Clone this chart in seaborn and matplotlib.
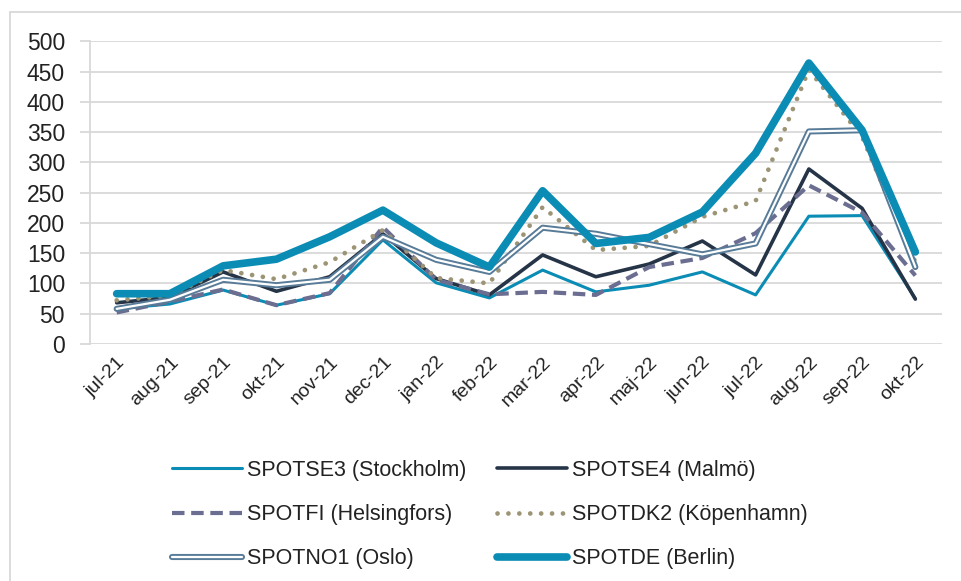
import matplotlib
matplotlib.use("Agg")
import matplotlib.pyplot as plt
import matplotlib.patheffects as pe
from matplotlib.lines import Line2D
import pandas as pd
import seaborn as sns

months = ["jul-21", "aug-21", "sep-21", "okt-21", "nov-21", "dec-21", "jan-22", "feb-22",
          "mar-22", "apr-22", "maj-22", "jun-22", "jul-22", "aug-22", "sep-22", "okt-22"]

se3 = [58, 66, 89, 64, 83, 172, 101, 76, 122, 86, 97, 119, 81, 211, 212, 75]
se4 = [68, 77, 119, 87, 111, 182, 108, 81, 147, 111, 132, 170, 114, 289, 224, 74]
fi = [52, 70, 90, 64, 84, 193, 106, 82, 86, 81, 127, 142, 183, 262, 217, 113]
dk2 = [72, 80, 122, 107, 135, 188, 109, 100, 226, 155, 162, 210, 236, 453, 342, 135]
no1 = [58, 73, 106, 97, 106, 177, 139, 119, 192, 182, 165, 148, 166, 351, 353, 127]
de = [83, 83, 129, 140, 177, 221, 167, 127, 253, 166, 176, 218, 315, 464, 353, 152]

labels = ["SPOTSE3 (Stockholm)", "SPOTSE4 (Malmö)", "SPOTFI (Helsingfors)",
          "SPOTDK2 (Köpenhamn)", "SPOTNO1 (Oslo)", "SPOTDE (Berlin)"]

df = pd.DataFrame({"month": months, labels[0]: se3, labels[1]: se4, labels[2]: fi,
                   labels[3]: dk2, labels[4]: no1, labels[5]: de})
df["x"] = range(len(months))

sns.set_style("white")
plt.rcParams["font.family"] = ["Liberation Sans", "DejaVu Sans"]

fig = plt.figure(figsize=(9.61, 5.81), dpi=100)
ax = fig.add_axes([0.0937, 0.408, 0.8865, 0.521])

teal = "#0a8cb5"
grid_c = "#d9d9d9"
styles = {
    labels[0]: dict(color=teal, lw=2.2),
    labels[1]: dict(color="#263447", lw=2.6),
    labels[2]: dict(color="#6b6e90", lw=3.0, dashes=(3, 1.6)),
    labels[3]: dict(color="#9c9474", lw=3.4, dashes=(0.01, 2.3), dash_capstyle="round"),
    labels[4]: dict(color="#587b98", lw=4.4,
                    path_effects=[pe.Normal(), pe.Stroke(linewidth=1.6, foreground="white")]),
    labels[5]: dict(color=teal, lw=5.5, solid_capstyle="round"),
}

for lab in labels:
    st = dict(styles[lab])
    dashes = st.pop("dashes", None)
    sns.lineplot(data=df, x="x", y=lab, ax=ax, label=lab, **st)
    if dashes is not None:
        ax.lines[-1].set_dashes(dashes)

ax.set_xlim(-0.5, len(months) - 0.5)
ax.set_ylim(0, 500)
ax.set_yticks(range(0, 501, 50))
ax.set_xticks(range(len(months)))
ax.set_xticklabels(months, rotation=45, ha="right", rotation_mode="anchor", fontsize=14)
ax.tick_params(axis="y", left=True, labelsize=16.5, length=7, width=1.3, color=grid_c, pad=11)
ax.tick_params(axis="x", length=0, pad=7)
ax.set_xlabel("")
ax.set_ylabel("")
ax.grid(axis="y", color=grid_c, lw=1.3)
ax.set_axisbelow(True)
for side in ["top", "right", "bottom"]:
    ax.spines[side].set_visible(False)
ax.spines["left"].set_color(grid_c)
ax.spines["left"].set_linewidth(1.3)
for lab in ax.get_yticklabels() + ax.get_xticklabels():
    lab.set_color("#222222")

# legend filled row by row: SE3 SE4 / FI DK2 / NO1 DE
handles, lbls = ax.get_legend_handles_labels()
order = [0, 2, 4, 1, 3, 5]
ax.get_legend().remove()
leg = fig.legend([handles[i] for i in order], [lbls[i] for i in order],
                 loc="upper left", bbox_to_anchor=(172 / 961, 1 - 460 / 581), ncol=2,
                 frameon=False, fontsize=15.5, handlelength=3.25, handletextpad=0.25,
                 columnspacing=1.4, labelspacing=1.07, borderpad=0, borderaxespad=0)
for t in leg.get_texts():
    t.set_color("#222222")

# outer chart border (top and left only visible)
fig.add_artist(Line2D([10 / 961, 1], [1 - 12 / 581, 1 - 12 / 581], transform=fig.transFigure,
                      color=grid_c, lw=1.3))
fig.add_artist(Line2D([10 / 961, 10 / 961], [0, 1 - 12 / 581], transform=fig.transFigure,
                      color=grid_c, lw=1.3))

fig.savefig("out.png", dpi=100)
